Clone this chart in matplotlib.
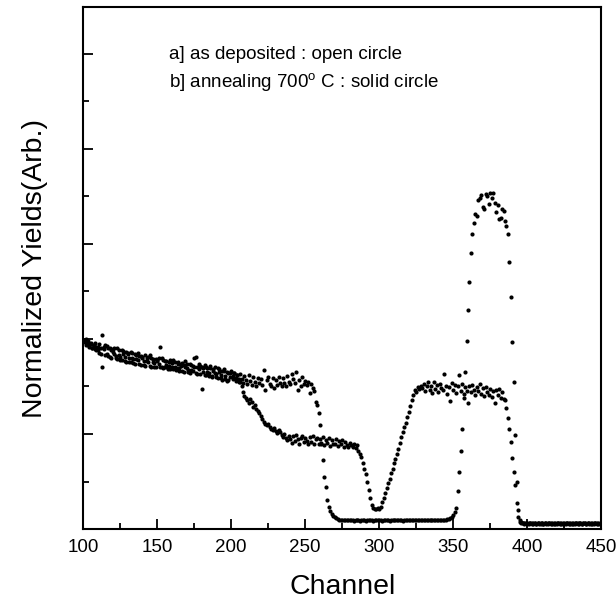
import numpy as np
import matplotlib
matplotlib.use('Agg')
import matplotlib.pyplot as plt
from matplotlib.ticker import MultipleLocator

plt.rcParams['font.family'] = ['Liberation Sans', 'DejaVu Sans']
plt.rcParams['mathtext.fontset'] = 'custom'
plt.rcParams['mathtext.rm'] = 'Liberation Sans'

# channel 100 ... 450
channel = np.arange(100, 451)

# a] as deposited (open circle)
as_deposited = [
    1.99, 1.97, 2.00, 1.95, 1.93, 1.96, 1.91, 1.94, 1.89, 1.92,
    1.88, 1.95, 1.84, 2.04, 1.92, 1.83, 1.93, 1.82, 1.90, 1.80,
    1.89, 1.84, 1.80, 1.90, 1.83, 1.78, 1.88, 1.84, 1.77, 1.86,
    1.84, 1.76, 1.86, 1.80, 1.75, 1.84, 1.79, 1.85, 1.74, 1.82,
    1.80, 1.73, 1.83, 1.77, 1.81, 1.72, 1.80, 1.76, 1.71, 1.79,
    1.77, 1.80, 1.92, 1.71, 1.78, 1.70, 1.77, 1.69, 1.76, 1.68,
    1.75, 1.78, 1.70, 1.67, 1.76, 1.69, 1.74, 1.66, 1.73, 1.77,
    1.69, 1.65, 1.74, 1.67, 1.72, 1.80, 1.64, 1.71, 1.74, 1.63,
    1.70, 1.65, 1.73, 1.62, 1.69, 1.64, 1.72, 1.61, 1.68, 1.64,
    1.60, 1.69, 1.65, 1.59, 1.66, 1.68, 1.58, 1.65, 1.57, 1.64,
    1.66, 1.61, 1.64, 1.59, 1.62, 1.58, 1.55, 1.50, 1.44, 1.40,
    1.38, 1.36, 1.33, 1.37, 1.34, 1.28, 1.30, 1.26, 1.24, 1.22,
    1.19, 1.16, 1.13, 1.11, 1.09, 1.10, 1.07, 1.05, 1.04, 1.06,
    1.03, 1.01, 1.04, 1.02, 0.99, 0.97, 1.00, 0.96, 0.94, 0.98,
    0.95, 0.91, 0.98, 0.93, 0.99, 0.95, 0.90, 0.96, 0.98, 0.92,
    0.96, 0.93, 0.89, 0.97, 0.92, 0.98, 0.90, 0.95, 0.96, 0.89,
    0.95, 0.91, 0.97, 0.88, 0.94, 0.91, 0.96, 0.87, 0.94, 0.90,
    0.89, 0.95, 0.87, 0.93, 0.89, 0.94, 0.86, 0.92, 0.88, 0.86,
    0.91, 0.88, 0.86, 0.90, 0.85, 0.88, 0.82, 0.79, 0.76, 0.70,
    0.63, 0.58, 0.50, 0.41, 0.33, 0.25, 0.22, 0.21, 0.21, 0.22,
    0.21, 0.23, 0.28, 0.33, 0.38, 0.43, 0.48, 0.53, 0.59, 0.63,
    0.69, 0.74, 0.79, 0.84, 0.91, 0.97, 1.02, 1.07, 1.12, 1.18,
    1.23, 1.29, 1.36, 1.41, 1.46, 1.44, 1.49, 1.47, 1.50, 1.48,
    1.53, 1.45, 1.50, 1.55, 1.46, 1.51, 1.43, 1.55, 1.47, 1.52,
    1.44, 1.53, 1.48, 1.46, 1.63, 1.51, 1.42, 1.49, 1.35, 1.54,
    1.46, 1.52, 1.43, 1.50, 1.62, 1.45, 1.53, 1.42, 1.49, 1.45,
    1.33, 1.50, 1.44, 1.52, 1.46, 1.41, 1.49, 1.45, 1.53, 1.42,
    1.48, 1.40, 1.49, 1.44, 1.41, 1.47, 1.39, 1.45, 1.33, 1.46,
    1.41, 1.47, 1.38, 1.44, 1.37, 1.36, 1.27, 1.17, 1.05, 0.92,
    0.75, 0.60, 0.46, 0.27, 0.13, 0.07, 0.06, 0.06, 0.05, 0.06,
    0.06, 0.05, 0.06, 0.06, 0.05, 0.06, 0.05, 0.06, 0.06, 0.05,
    0.06, 0.05, 0.06, 0.05, 0.06, 0.06, 0.05, 0.06, 0.05, 0.06,
    0.05, 0.06, 0.06, 0.05, 0.06, 0.05, 0.06, 0.06, 0.05, 0.06,
    0.05, 0.06, 0.05, 0.06, 0.06, 0.05, 0.06, 0.05, 0.06, 0.06,
    0.05, 0.06, 0.05, 0.06, 0.05, 0.06, 0.06, 0.05, 0.06, 0.05,
    0.06,
]

# b] annealing 700 C (solid circle)
annealed = [
    1.97, 1.99, 1.94, 1.98, 1.92, 1.95, 1.90, 1.93, 1.96, 1.88,
    1.92, 1.85, 1.91, 1.70, 1.89, 1.94, 1.84, 1.90, 1.81, 1.88,
    1.86, 1.91, 1.82, 1.79, 1.88, 1.81, 1.78, 1.87, 1.81, 1.76,
    1.85, 1.80, 1.76, 1.85, 1.79, 1.74, 1.83, 1.78, 1.82, 1.73,
    1.81, 1.77, 1.72, 1.80, 1.76, 1.83, 1.71, 1.79, 1.75, 1.70,
    1.78, 1.74, 1.70, 1.80, 1.69, 1.77, 1.73, 1.68, 1.72, 1.78,
    1.71, 1.68, 1.76, 1.69, 1.74, 1.66, 1.72, 1.75, 1.65, 1.70,
    1.74, 1.67, 1.64, 1.73, 1.66, 1.71, 1.81, 1.63, 1.68, 1.72,
    1.47, 1.69, 1.62, 1.71, 1.65, 1.61, 1.69, 1.60, 1.66, 1.70,
    1.63, 1.59, 1.68, 1.62, 1.57, 1.66, 1.61, 1.56, 1.64, 1.60,
    1.65, 1.58, 1.64, 1.56, 1.62, 1.55, 1.63, 1.58, 1.54, 1.61,
    1.57, 1.53, 1.62, 1.56, 1.52, 1.60, 1.55, 1.51, 1.59, 1.54,
    1.58, 1.52, 1.67, 1.46, 1.57, 1.60, 1.53, 1.51, 1.59, 1.48,
    1.57, 1.52, 1.60, 1.54, 1.50, 1.59, 1.54, 1.51, 1.61, 1.55,
    1.53, 1.63, 1.58, 1.54, 1.65, 1.46, 1.57, 1.51, 1.60, 1.53,
    1.56, 1.52, 1.55, 1.43, 1.53, 1.48, 1.45, 1.34, 1.30, 1.22,
    1.09, 0.90, 0.73, 0.55, 0.44, 0.31, 0.23, 0.19, 0.16, 0.14,
    0.13, 0.12, 0.11, 0.10, 0.10, 0.09, 0.09, 0.09, 0.09, 0.09,
    0.09, 0.09, 0.09, 0.08, 0.09, 0.09, 0.09, 0.08, 0.09, 0.09,
    0.09, 0.08, 0.09, 0.09, 0.09, 0.09, 0.08, 0.09, 0.09, 0.09,
    0.09, 0.09, 0.08, 0.09, 0.09, 0.09, 0.09, 0.08, 0.09, 0.09,
    0.09, 0.09, 0.09, 0.10, 0.09, 0.09, 0.08, 0.09, 0.09, 0.09,
    0.09, 0.10, 0.09, 0.09, 0.09, 0.09, 0.09, 0.09, 0.10, 0.09,
    0.09, 0.09, 0.09, 0.09, 0.10, 0.09, 0.09, 0.09, 0.09, 0.10,
    0.09, 0.09, 0.10, 0.10, 0.10, 0.10, 0.11, 0.11, 0.12, 0.13,
    0.15, 0.18, 0.22, 0.40, 0.60, 0.82, 1.05, 1.38, 1.65, 1.98,
    2.30, 2.60, 2.90, 3.10, 3.22, 3.31, 3.29, 3.46, 3.48, 3.51,
    3.39, 3.37, 3.53, 3.50, 3.42, 3.54, 3.48, 3.54, 3.43, 3.34,
    3.41, 3.26, 3.27, 3.37, 3.35, 3.24, 3.19, 3.10, 2.81, 2.44,
    1.97, 1.55, 0.99, 0.50, 0.20, 0.10, 0.07, 0.06, 0.06, 0.06,
    0.05, 0.06, 0.06, 0.05, 0.06, 0.06, 0.05, 0.06, 0.05, 0.06,
    0.06, 0.05, 0.06, 0.06, 0.05, 0.06, 0.06, 0.05, 0.06, 0.05,
    0.06, 0.06, 0.05, 0.06, 0.05, 0.06, 0.05, 0.06, 0.06, 0.05,
    0.06, 0.05, 0.06, 0.06, 0.05, 0.06, 0.06, 0.05, 0.06, 0.06,
    0.05, 0.06, 0.06, 0.05, 0.06, 0.05, 0.06, 0.06, 0.05, 0.06,
    0.05,
]

fig = plt.figure(figsize=(6.16, 6.06), dpi=100)
ax = fig.add_axes([0.135, 0.127, 0.841, 0.861])

ax.plot(channel, as_deposited, 'o', ms=3.0, color='black', mec='none')
ax.plot(channel, annealed, 'o', ms=3.0, color='black', mec='none')

ax.set_xlim(100, 450)
ax.set_ylim(0, 5.49)

ax.xaxis.set_major_locator(MultipleLocator(50))
ax.xaxis.set_minor_locator(MultipleLocator(25))
ax.yaxis.set_major_locator(MultipleLocator(1))
ax.yaxis.set_minor_locator(MultipleLocator(0.5))

ax.tick_params(which='both', direction='in', top=False, right=False, width=1.3)
ax.tick_params(which='major', length=7)
ax.tick_params(which='minor', length=4)
ax.tick_params(axis='x', labelsize=13.5, pad=7)
ax.tick_params(axis='y', labelleft=False)

for s in ax.spines.values():
    s.set_linewidth(1.5)

ax.set_xlabel('Channel', fontsize=20.5, labelpad=13)
ax.set_ylabel('Normalized Yields(Arb.)', fontsize=20.5, labelpad=22)

ax.text(0.166, 0.91, 'a] as deposited : open circle', transform=ax.transAxes,
        fontsize=13.5, va='center')
ax.text(0.166, 0.856, 'b] annealing 700$^{\\mathrm{o}}$ C : solid circle', transform=ax.transAxes,
        fontsize=13.5, va='center')

fig.savefig('out.png', dpi=100)
